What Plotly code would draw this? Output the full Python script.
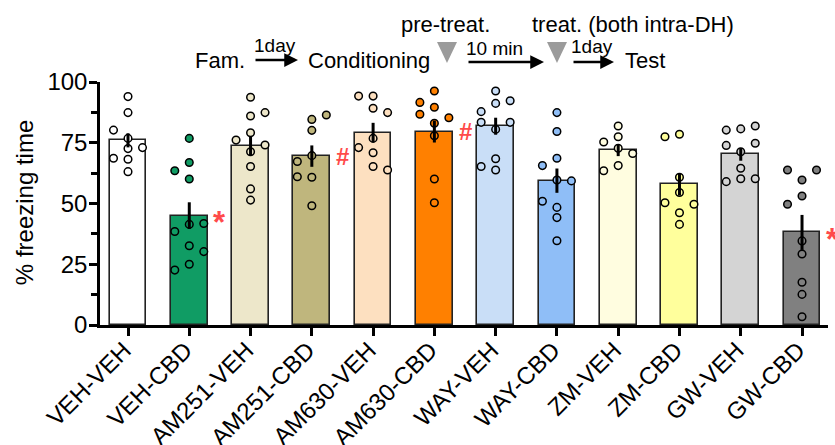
import plotly.graph_objects as go

# ---------------- data ----------------
groups = ["VEH-VEH", "VEH-CBD", "AM251-VEH", "AM251-CBD", "AM630-VEH", "AM630-CBD",
          "WAY-VEH", "WAY-CBD", "ZM-VEH", "ZM-CBD", "GW-VEH", "GW-CBD"]
means = [76.0, 45.0, 73.7, 69.5, 79.2, 79.6, 81.8, 59.4, 72.0, 57.9, 70.2, 38.1]
sems = [2.9, 5.5, 3.8, 4.4, 4.0, 4.5, 3.5, 5.0, 2.5, 4.6, 2.6, 7.2]

veh_veh = [94.0, 87.4, 76.8, 68.2, 63.1, 72.6, 80.2, 73.0, 68.6]
veh_cbd = [76.8, 66.9, 60.1, 41.4, 63.5, 41.8, 38.5, 32.6, 30.2, 25.0, 22.6]
am251_veh = [93.7, 86.0, 79.1, 71.3, 65.2, 56.0, 51.4, 76.1, 87.4, 74.1]
am251_cbd = [84.6, 80.1, 60.8, 49.1, 69.7, 67.3, 86.4, 61.0]
am630_veh = [94.2, 94.2, 89.2, 87.4, 76.8, 73.0, 70.9, 65.2, 63.8]
am630_cbd = [96.3, 89.6, 83.0, 77.9, 60.1, 50.3, 91.6, 85.3, 86.7]
way_veh = [96.3, 91.2, 80.5, 68.4, 87.8, 92.3, 83.4, 83.4, 65.2, 63.8]
way_cbd = [87.4, 79.6, 59.7, 48.4, 44.2, 34.7, 68.6, 65.6, 59.3, 50.9]
zm_veh = [81.9, 77.5, 75.3, 72.7, 70.6, 65.6, 63.5]
zm_cbd = [78.5, 60.8, 54.5, 46.2, 41.4, 77.5, 49.7, 50.3]
gw_veh = [80.7, 71.3, 64.5, 60.2, 80.2, 81.9, 73.9, 74.8, 59.0, 60.2]
gw_cbd = [59.7, 53.1, 34.6, 29.2, 17.6, 12.6, 3.4, 63.8, 63.8, 49.7]

animal_values = [veh_veh, veh_cbd, am251_veh, am251_cbd, am630_veh, am630_cbd,
                 way_veh, way_cbd, zm_veh, zm_cbd, gw_veh, gw_cbd]
sig_marks = ["", "*", "", "#", "", "#", "", "", "", "", "", "*"]

# ---------------- style ----------------
bar_colors = ["#ffffff", "#109c64", "#ede7ca", "#bfb67d", "#fde0c0", "#ff8000",
              "#c9def7", "#8fbef7", "#fffde0", "#ffff9c", "#d4d4d4", "#808080"]
FONT = "Liberation Sans, Arial, Helvetica, sans-serif"
W, H = 835, 445
ML, MR, MT, MB = 100, 7, 82, 120
PW, PH = W - ML - MR, H - MT - MB
XR = [-0.457, 11.424]
YR = [0, 100]
px_per_y = PH / (YR[1] - YR[0])
STEP = 0.2366          # horizontal column step for the dot swarm (category units)
MIN_GAP_PX = 10.0      # vertical clearance needed within a column


def swarm_offsets(values):
    placed = []
    for v in values:
        def free(c):
            return all(not (pc == c and abs(pv - v) * px_per_y < MIN_GAP_PX) for pc, pv in placed)
        col = 0
        if not free(0):
            k = 1
            while True:
                neg = sum(1 for pc, _ in placed if pc < 0)
                pos = sum(1 for pc, _ in placed if pc > 0)
                order = [-k, k] if neg <= pos else [k, -k]
                hit = next((c for c in order if free(c)), None)
                if hit is not None:
                    col = hit
                    break
                k += 1
        placed.append((col, v))
    return [c * STEP for c, _ in placed]


def pxx(x):
    return (x - ML) / PW


def pxy(y):
    return (H - MB - y) / PH


def data_x_to_paper(x):
    return (x - XR[0]) / (XR[1] - XR[0])


idx = list(range(len(groups)))
fig = go.Figure()

fig.add_trace(go.Bar(
    x=idx, y=means, width=0.6,
    marker=dict(color=bar_colors, line=dict(color="#222222", width=1.6)),
    hoverinfo="skip", showlegend=False))

for i, vals in enumerate(animal_values):
    offs = swarm_offsets(vals)
    fig.add_trace(go.Scatter(
        x=[i + o for o in offs], y=vals, mode="markers", cliponaxis=False,
        marker=dict(size=7.6, color=bar_colors[i], line=dict(color="black", width=1.5)),
        showlegend=False, hoverinfo="skip"))

fig.add_trace(go.Scatter(
    x=idx, y=means, mode="markers", cliponaxis=False,
    marker=dict(size=1, color="rgba(0,0,0,0)"),
    error_y=dict(type="data", array=sems, color="black", thickness=3, width=0),
    showlegend=False, hoverinfo="skip"))

annotations = []
for i, s in enumerate(sig_marks):
    if not s:
        continue
    star = s == "*"
    annotations.append(dict(
        x=data_x_to_paper(i + 0.5), y=means[i], xref="paper", yref="y", text="<b>%s</b>" % s,
        showarrow=False, xanchor="center", yanchor="middle",
        yshift=-7 if star else 0,
        font=dict(family=FONT, size=31 if star else 24, color="#ff4a4a")))

# protocol timeline
def label(text, xc, yc, size):
    annotations.append(dict(x=pxx(xc), y=pxy(yc), xref="paper", yref="paper", text=text,
                            showarrow=False, xanchor="center", yanchor="middle",
                            font=dict(family=FONT, size=size, color="black")))


label("Fam.", 220, 60.3, 22)
label("Conditioning", 369, 60.3, 22)
label("Test", 645, 60.3, 22)
label("pre-treat.", 445, 24.3, 22)
label("treat. (both intra-DH)", 633, 24.3, 22)
label("1day", 275, 45.4, 19)
label("10 min", 494, 48.4, 19)
label("1day", 592, 46.4, 19)


def arrow(x0, x1, y):
    annotations.append(dict(x=pxx(x1), y=pxy(y), xref="paper", yref="paper", text="",
                            showarrow=True, ax=x0 - x1, ay=0, axref="pixel", ayref="pixel",
                            arrowhead=2, arrowsize=1.1, arrowwidth=2.5, arrowcolor="black",
                            standoff=0, startstandoff=0))


arrow(254, 298, 60)
arrow(467, 544, 62)
arrow(572, 614, 62)

shapes = []
for xc in (447, 557):
    path = "M %f,%f L %f,%f L %f,%f Z" % (pxx(xc - 10), pxy(42), pxx(xc + 10), pxy(42), pxx(xc), pxy(63))
    shapes.append(dict(type="path", path=path, xref="paper", yref="paper",
                       fillcolor="#9b9b9b", line=dict(width=0)))

annotations.append(dict(x=pxx(24.6), y=0.504, xref="paper", yref="paper", text="% freezing time",
                        textangle=-90, showarrow=False, xanchor="center", yanchor="middle",
                        font=dict(family=FONT, size=24, color="black")))

fig.update_layout(
    width=W, height=H, autosize=False,
    margin=dict(l=ML, r=MR, t=MT, b=MB, pad=0, autoexpand=False),
    paper_bgcolor="white", plot_bgcolor="white",
    bargap=0, annotations=annotations, shapes=shapes,
    xaxis=dict(range=XR, tickmode="array", tickvals=idx, ticktext=groups, tickangle=-45,
               automargin=False, ticklabelstandoff=-9, ticklabelshift=-4,
               ticks="outside", ticklen=8, tickwidth=2.5, tickcolor="black",
               showline=True, linewidth=2.5, linecolor="black", showgrid=False, zeroline=False,
               tickfont=dict(family=FONT, size=24, color="black")),
    yaxis=dict(range=YR, tickmode="array", tickvals=[0, 25, 50, 75, 100], automargin=False,
               ticklabelstandoff=-3,
               ticks="outside", ticklen=8, tickwidth=2.5, tickcolor="black",
               minor=dict(tickmode="array", tickvals=[12.5, 37.5, 62.5, 87.5], ticks="outside",
                          ticklen=6, tickwidth=2.5, tickcolor="black", showgrid=False),
               showline=True, linewidth=2.5, linecolor="black", showgrid=False, zeroline=False,
               tickfont=dict(family=FONT, size=24, color="black")),
)

fig.write_html("out.html", config={"displayModeBar": False},
               post_script="document.body.style.margin='0';document.body.style.overflow='hidden';")
